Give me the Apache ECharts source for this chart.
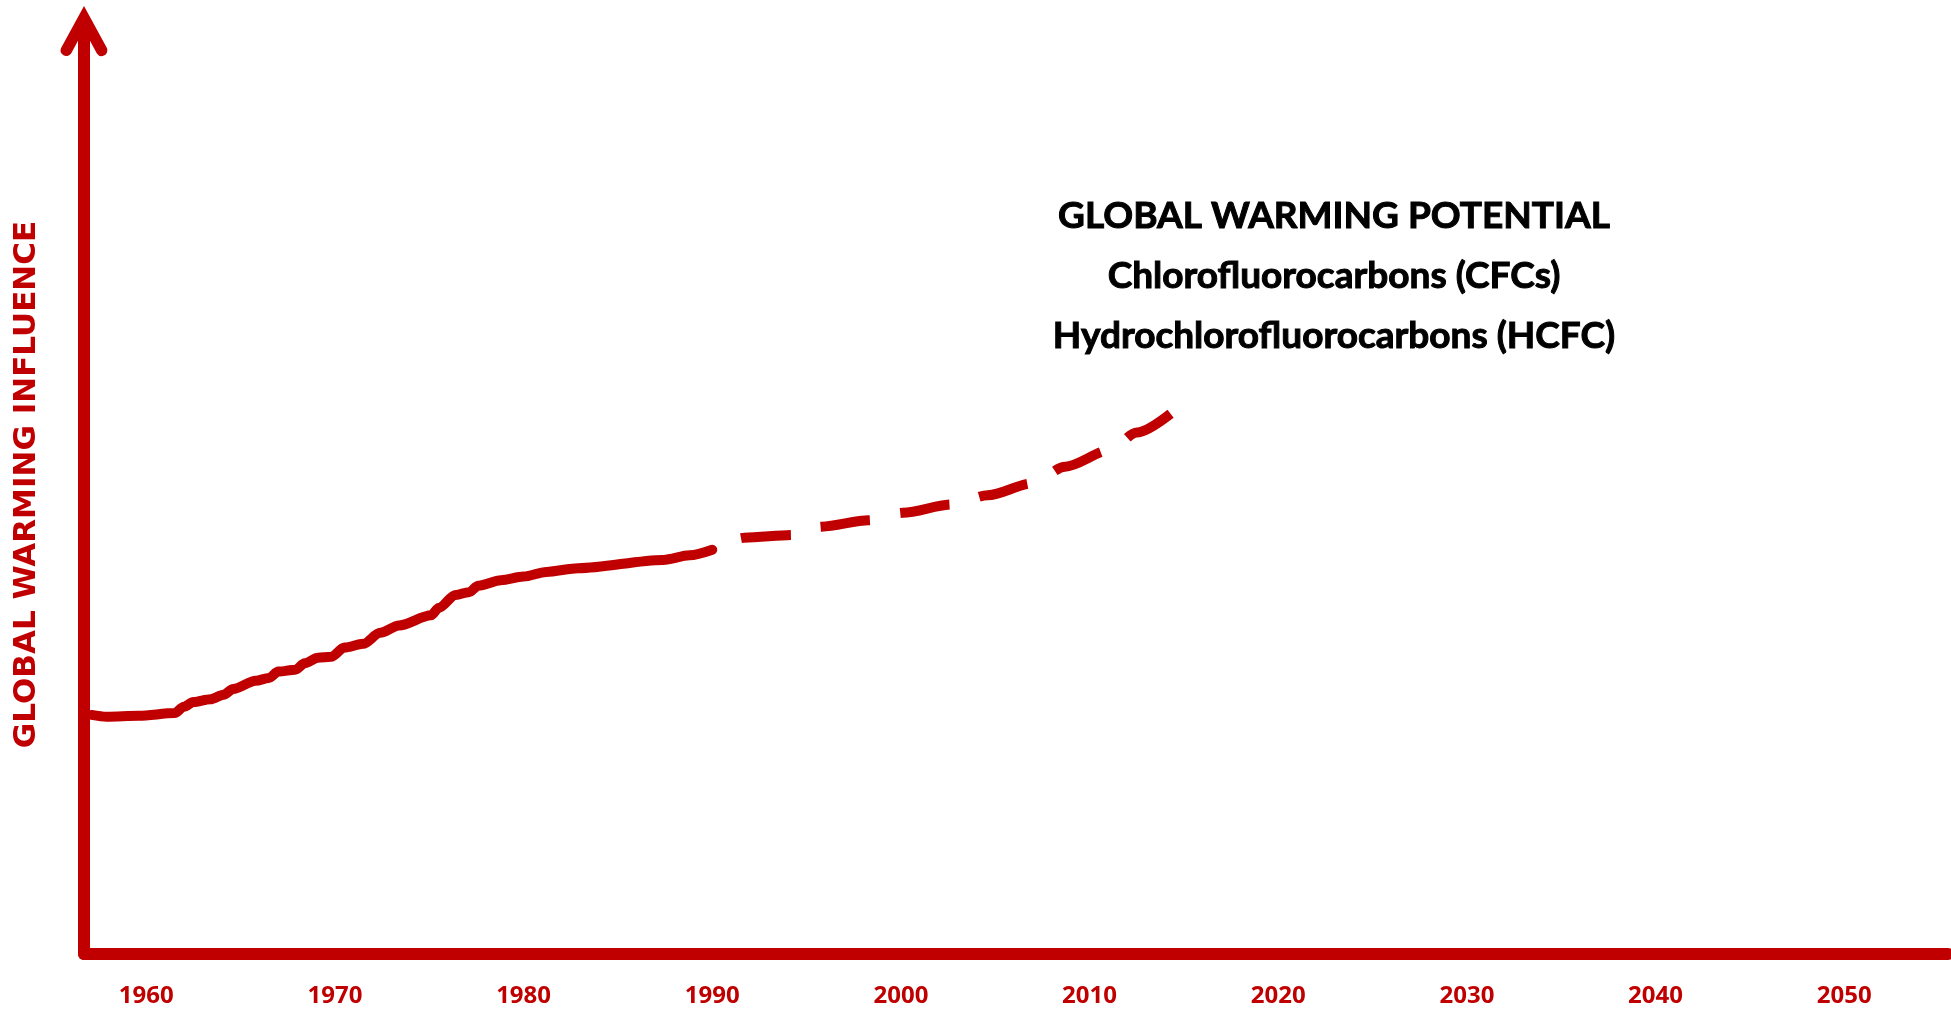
<!DOCTYPE html>
<html>
<head>
<meta charset="utf-8">
<style>
html,body{margin:0;padding:0;background:#fff;}
#chart{width:1951px;height:1010px;}
</style>
<script src="https://cdn.jsdelivr.net/npm/echarts@6/dist/echarts.min.js"></script>
</head>
<body>
<div id="chart"></div>
<script>
// tick labels (years)
const tickYears = [1960, 1970, 1980, 1990, 2000, 2010, 2020, 2030, 2040, 2050];

// measured part (solid line): [year, relative influence]
const measuredYears = [1957.1, 1957.9, 1959.6, 1961.5, 1962.0, 1962.5, 1963.4, 1964.1, 1964.6, 1965.8, 1966.5, 1967.0, 1967.9, 1968.4, 1969.1, 1969.8, 1970.5, 1971.5, 1972.4, 1973.4, 1975.1, 1975.5, 1976.4, 1977.1, 1977.6, 1978.8, 1980.0, 1981.2, 1982.9, 1987.4, 1988.8, 1990.0];
const measuredValues = [25.9, 25.7, 25.8, 26.1, 26.8, 27.3, 27.6, 28.1, 28.7, 29.6, 29.9, 30.6, 30.8, 31.5, 32.1, 32.2, 33.2, 33.6, 34.8, 35.6, 36.7, 37.5, 38.9, 39.2, 39.9, 40.5, 40.9, 41.4, 41.8, 42.7, 43.2, 43.8];

// projected / estimated part (dashed line)
const projectedYears = [1990.0, 1991.7, 1994.3, 1995.8, 1998.3, 2000.1, 2002.7, 2004.6, 2007.0, 2008.7, 2011.1, 2012.5, 2014.4];
const projectedValues = [43.8, 45.1, 45.4, 46.3, 47.0, 47.8, 48.7, 49.7, 51.0, 52.8, 54.6, 56.5, 58.7];

const titleLines = ['GLOBAL WARMING POTENTIAL', 'Chlorofluorocarbons (CFCs)', 'Hydrochlorofluorocarbons (HCFC)'];
const yAxisTitle = 'GLOBAL WARMING INFLUENCE';

const RED = '#C00000';
const zip = (xs, ys) => xs.map((x, i) => [x, ys[i]]);

const chart = echarts.init(document.getElementById('chart'), null, {renderer: 'canvas'});
chart.setOption({
  animation: false,
  backgroundColor: '#ffffff',
  title: {
    text: titleLines.join('\n'),
    left: 1329,
    top: 181,
    textAlign: 'center',
    textStyle: {
      fontFamily: 'Lato',
      fontWeight: 'bold',
      fontSize: 37,
      lineHeight: 60,
      color: '#000000',
      textBorderColor: '#000000',
      textBorderWidth: 1
    }
  },
  grid: {left: 84, right: 3, top: 31, bottom: 56, containLabel: false},
  xAxis: {
    type: 'value',
    min: 1956.7,
    max: 2055.5,
    axisLine: {show: true, onZero: false, lineStyle: {color: RED, width: 12}},
    axisTick: {show: false},
    splitLine: {show: false},
    axisLabel: {
      customValues: tickYears,
      formatter: v => String(v),
      color: RED,
      fontFamily: 'Noto Sans',
      fontWeight: 'bold',
      fontSize: 24,
      margin: 30
    }
  },
  yAxis: {
    type: 'value',
    min: 0,
    max: 100,
    name: yAxisTitle,
    nameLocation: 'middle',
    nameRotate: 90,
    nameGap: 42,
    nameTextStyle: {color: RED, fontFamily: 'DejaVu Sans', fontWeight: 'bold', fontSize: 31, padding: [0, 0, 0, 16]},
    axisLine: {
      show: true,
      onZero: false,
      symbol: ['none', 'path://M24 0L48 44A6 6 0 0 1 37.5 49.7L24 25L10.5 49.7A6 6 0 0 1 0 44Z'],
      symbolSize: [48, 50],
      lineStyle: {color: RED, width: 12}
    },
    axisTick: {show: false},
    axisLabel: {show: false},
    splitLine: {show: false}
  },
  series: [
    {
      type: 'line',
      data: zip(measuredYears, measuredValues),
      showSymbol: false,
      smooth: 0.3,
      smoothMonotone: 'x',
      lineStyle: {color: RED, width: 10, cap: 'round', join: 'round'},
      z: 3
    },
    {
      type: 'line',
      data: zip(projectedYears, projectedValues),
      showSymbol: false,
      smooth: 0.3,
      smoothMonotone: 'x',
      lineStyle: {color: RED, width: 10, type: [50, 31], dashOffset: 50, cap: 'butt'},
      z: 3
    }
  ]
});
</script>
</body>
</html>
